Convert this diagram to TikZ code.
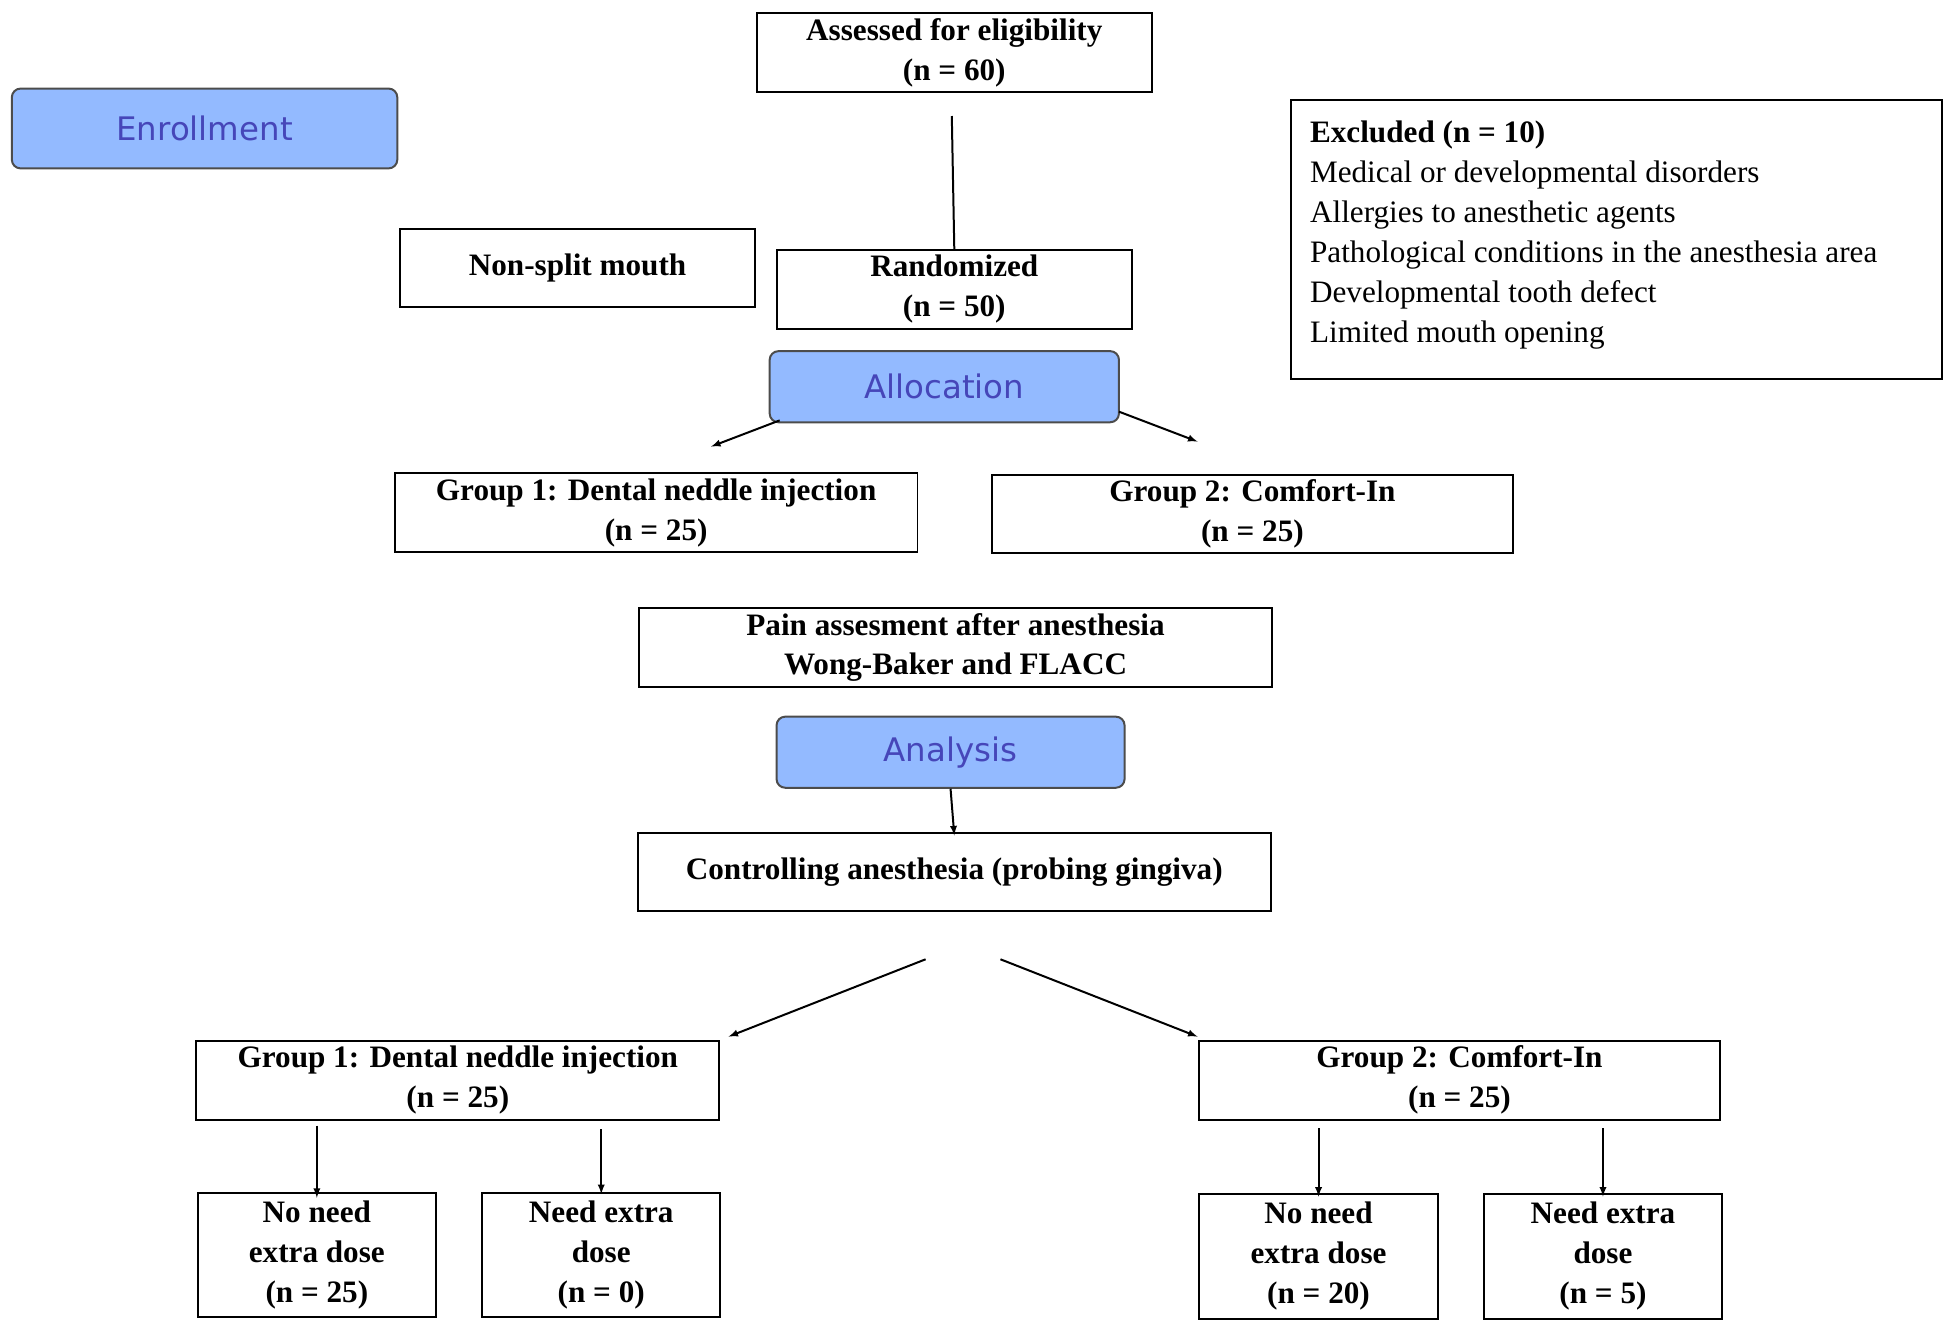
\documentclass[tikz,border=0pt]{standalone}
\usepackage{fontspec}
\setmainfont{Liberation Serif}
\newfontfamily\labfont{DejaVu Sans}
\usetikzlibrary{positioning}
\begin{document}
\begin{tikzpicture}[x=1pt,y=-1pt,
  box/.style={draw,line width=1.6pt,align=center,inner sep=0pt,font=\fontsize{25}{32}\selectfont\bfseries},
  tag/.style={draw=black!70,line width=1.6pt,rounded corners=7pt,fill=blue!30!cyan!25!white,fill=blue!32!white!85!cyan,
    inner sep=0pt,font=\labfont\fontsize{26}{30}\selectfont,text=blue!45!gray},
  arr/.style={-latex,line width=1.6pt},
  ln/.style={line width=1.6pt}]
\useasboundingbox (0,0) rectangle (1560,1062);
% boxes
\node[box,minimum width=317,minimum height=63] (assess) at (765,42) {Assessed for eligibility\\(n = 60)};
\node[tag,minimum width=309,minimum height=64] (enroll) at (164,103) {Enrollment};
\node[draw,line width=1.6pt,minimum width=522,minimum height=224,inner sep=0pt] (excl) at (1296,192) {};
\node[anchor=north west,align=left,inner sep=0pt,font=\fontsize{25}{32}\selectfont] (excltxt) at (1050,97)
  {\textbf{Excluded (n = 10)}\\Medical or developmental disorders\\Allergies to anesthetic agents\\Pathological conditions in the anesthesia area\\Developmental tooth defect\\Limited mouth opening};
\node[box,minimum width=285,minimum height=63] (nonsplit) at (463,215) {Non-split mouth};
\node[box,minimum width=285,minimum height=63] (random) at (765,232) {Randomized\\(n = 50)};
\node[tag,minimum width=280,minimum height=57] (alloc) at (757,310) {Allocation};
\node[box,minimum width=419,minimum height=63] (grpA) at (526,411) {Group 1: Dental neddle injection\\(n = 25)};
\node[box,minimum width=418,minimum height=63] (grpB) at (1004,412) {Group 2: Comfort-In\\(n = 25)};
\node[box,minimum width=507,minimum height=63] (pain) at (766,519) {Pain assesment after anesthesia\\Wong-Baker and FLACC};
\node[tag,minimum width=279,minimum height=57] (analys) at (762,603) {Analysis};
\node[box,minimum width=507,minimum height=63] (control) at (765,699) {Controlling anesthesia (probing gingiva)};
\node[box,minimum width=419,minimum height=63] (grpC) at (367,866) {Group 1: Dental neddle injection\\(n = 25)};
\node[box,minimum width=418,minimum height=63] (grpD) at (1170,866) {Group 2: Comfort-In\\(n = 25)};
\node[box,minimum width=191,minimum height=100] (noA) at (254,1006) {No need\\extra dose\\(n = 25)};
\node[box,minimum width=191,minimum height=100] (needA) at (482,1006) {Need extra\\dose\\(n = 0)};
\node[box,minimum width=191,minimum height=100] (noB) at (1057,1007) {No need\\extra dose\\(n = 20)};
\node[box,minimum width=191,minimum height=100] (needB) at (1285,1007) {Need extra\\dose\\(n = 5)};
% free ends
\coordinate (s1) at (763,93);
\coordinate (a1) at (625,337); \coordinate (a2) at (570,358);
\coordinate (b1) at (897,330); \coordinate (b2) at (960,354);
\coordinate (c1) at (742,769); \coordinate (c2) at (584,831);
\coordinate (d1) at (802,769); \coordinate (d2) at (960,831);
% connectors
\draw[ln] (s1) -- (random.north);
\draw[arr] (a1) -- (a2);
\draw[arr] (b1) -- (b2);
\draw[arr] (analys.south) -- ([yshift=-3pt]control.north);
\draw[arr] (c1) -- (c2);
\draw[arr] (d1) -- (d2);
\draw[arr] ([yshift=-4pt]grpC.south -| noA) -- ([yshift=-5pt]noA.north);
\draw[arr] ([yshift=-7pt]grpC.south -| needA) -- ([yshift=-2pt]needA.north);
\draw[arr] ([yshift=-6pt]grpD.south -| noB) -- ([yshift=-3pt]noB.north);
\draw[arr] ([yshift=-6pt]grpD.south -| needB) -- ([yshift=-3pt]needB.north);
\end{tikzpicture}
\end{document}
